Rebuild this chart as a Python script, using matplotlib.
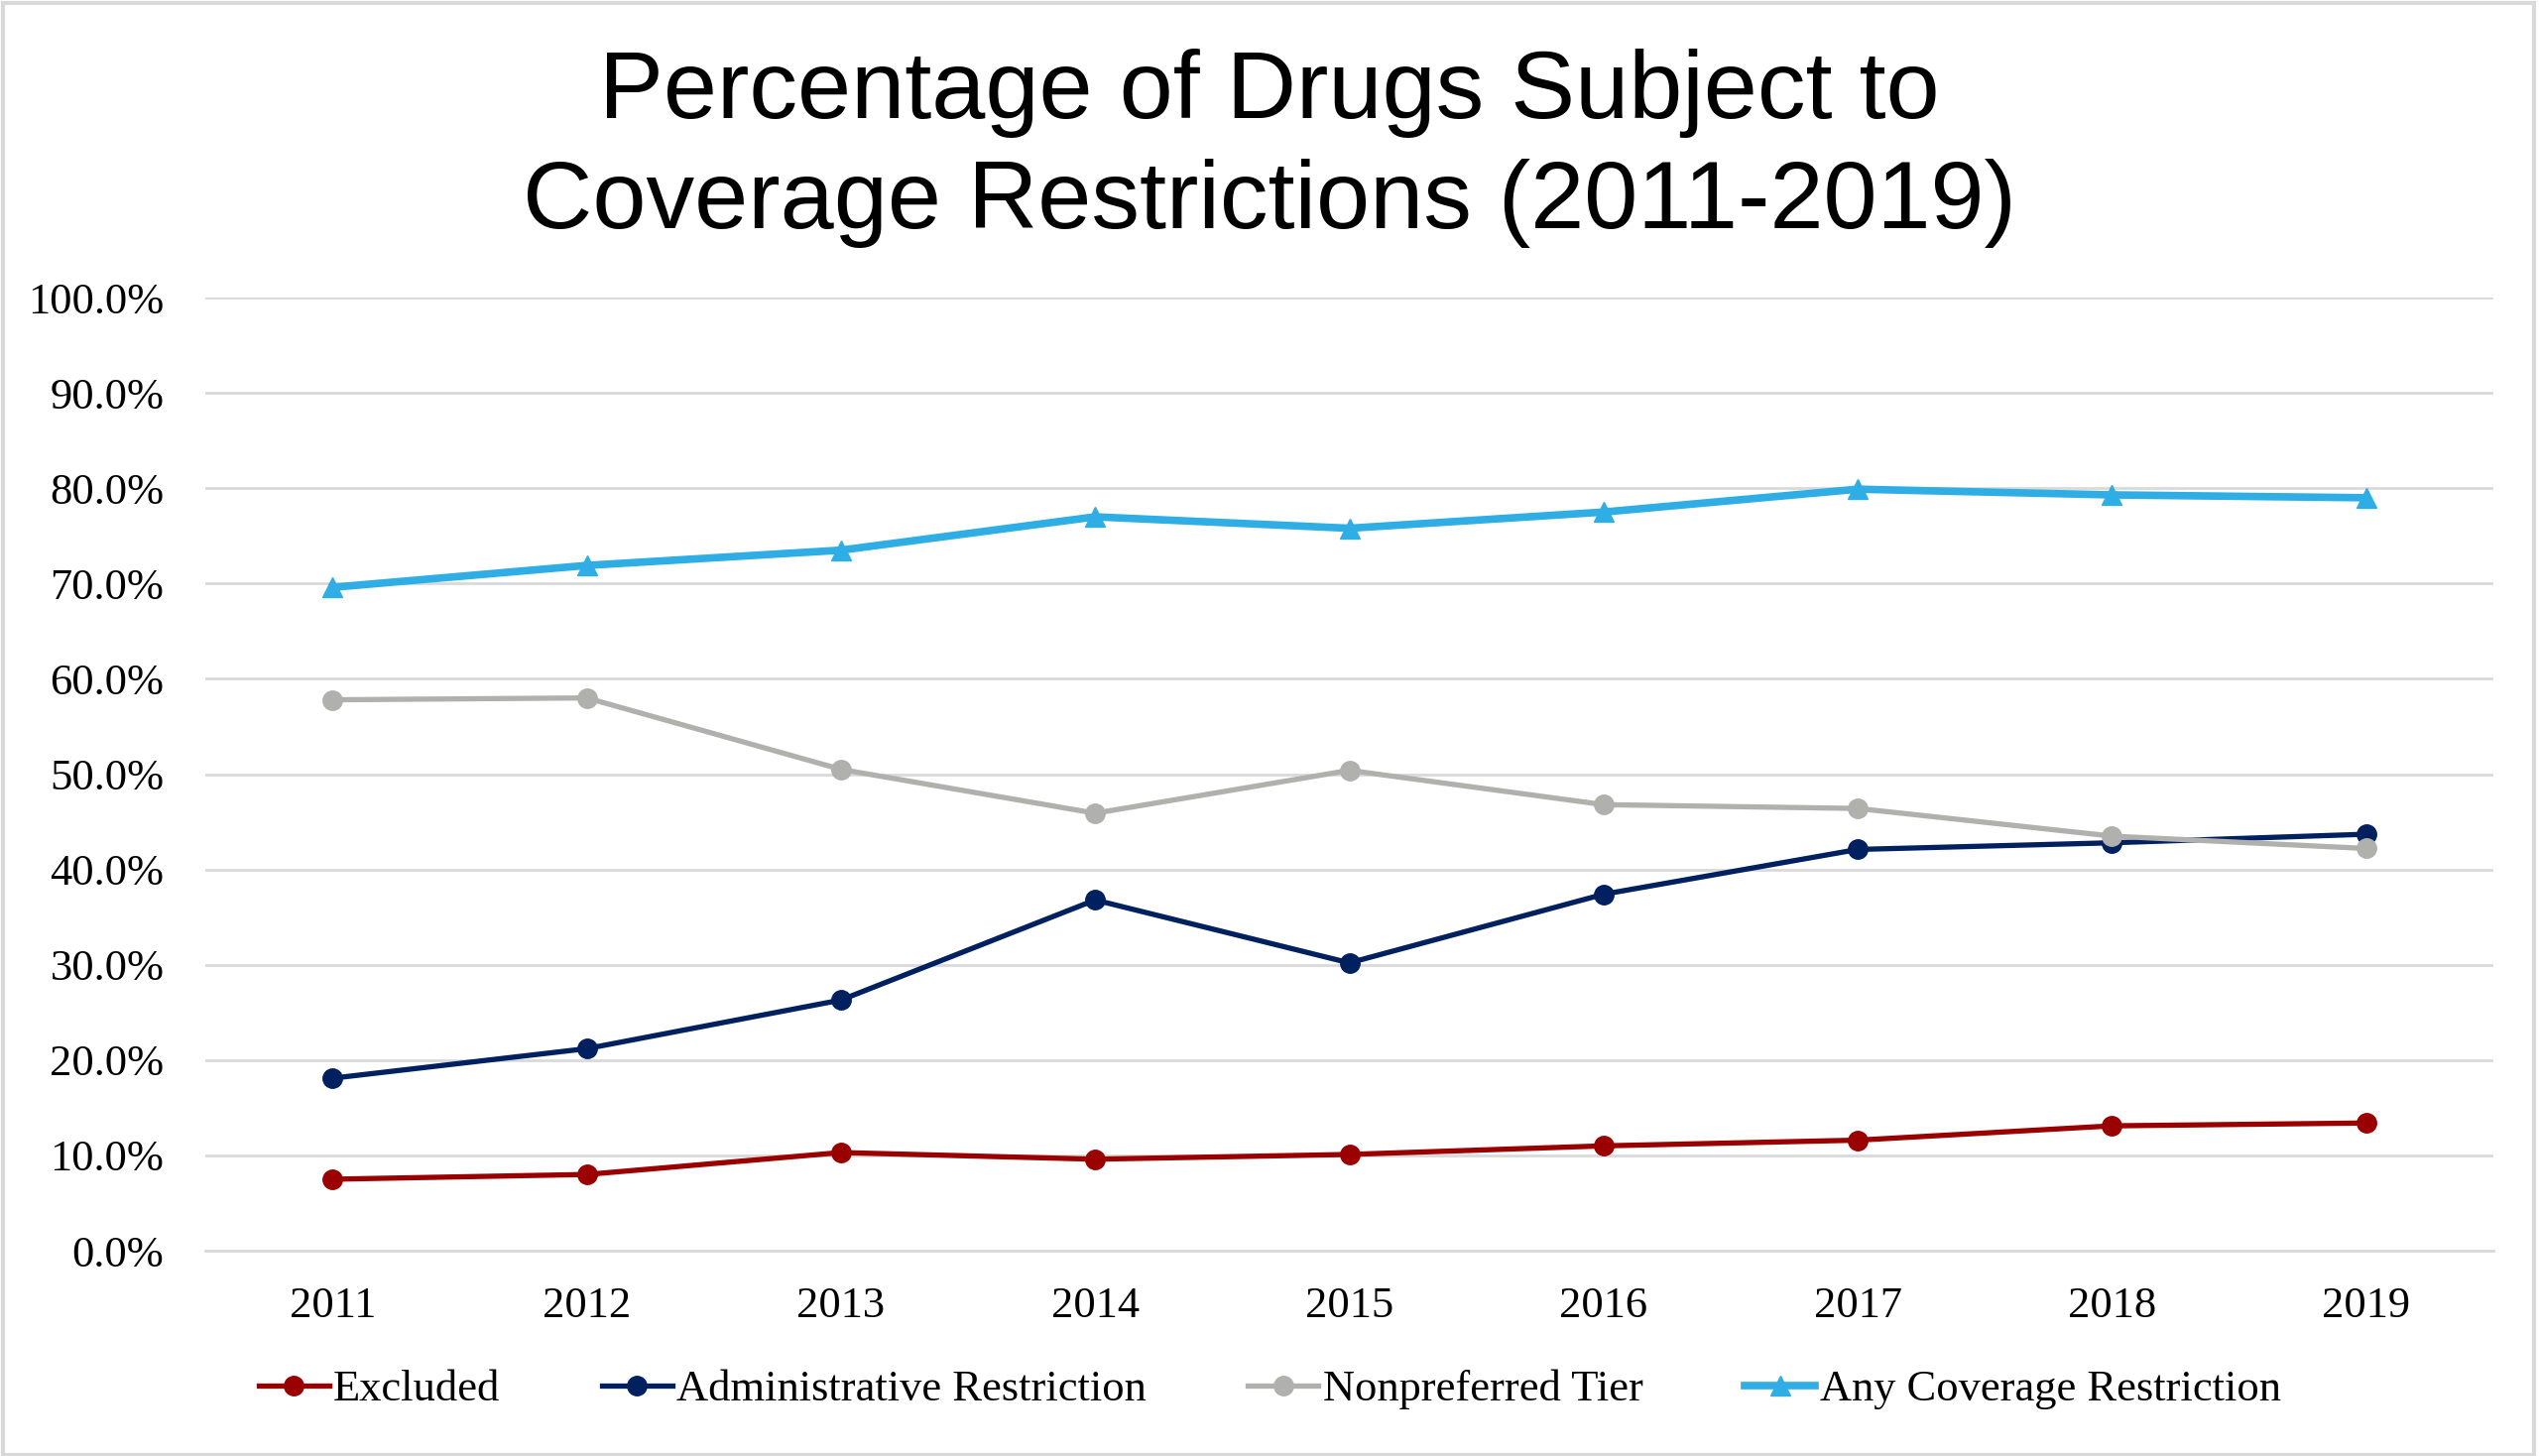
import matplotlib
matplotlib.use("Agg")
import matplotlib.pyplot as plt
from matplotlib.patches import Rectangle

years = ["2011", "2012", "2013", "2014", "2015", "2016", "2017", "2018", "2019"]
excluded = [7.5, 8.0, 10.3, 9.6, 10.1, 11.0, 11.6, 13.1, 13.4]
administrative = [18.1, 21.2, 26.3, 36.8, 30.2, 37.4, 42.1, 42.8, 43.7]
nonpreferred = [57.8, 58.0, 50.5, 45.9, 50.4, 46.8, 46.4, 43.5, 42.2]
any_coverage = [69.6, 71.9, 73.5, 77.0, 75.8, 77.5, 79.9, 79.3, 79.0]
yticks = [0, 10, 20, 30, 40, 50, 60, 70, 80, 90, 100]

serif = ["Liberation Serif", "DejaVu Serif"]

fig = plt.figure(figsize=(25.6, 14.68), dpi=100)
ax = fig.add_axes([0.0809, 0.141, 0.9011, 0.6546])

x = list(range(len(years)))
ax.plot(x, excluded, color="#9B0000", lw=3.8, marker="o", ms=14, label="Excluded", zorder=3)
ax.plot(x, administrative, color="#002060", lw=3.8, marker="o", ms=14, label="Administrative Restriction", zorder=3)
ax.plot(x, nonpreferred, color="#B0B0AD", lw=3.8, marker="o", ms=14, label="Nonpreferred Tier", zorder=3)
ax.plot(x, any_coverage, color="#2EAEE4", lw=5.5, marker="^", ms=14, label="Any Coverage Restriction", zorder=4)

ax.set_xlim(-0.5, len(years) - 0.5)
ax.set_ylim(0, 100)
ax.set_yticks(yticks)
ax.set_yticklabels([f"{v:.1f}%" for v in yticks], fontfamily=serif, fontsize=32)
ax.set_xticks(x)
ax.set_xticklabels(years, fontfamily=serif, fontsize=32)
ax.tick_params(axis="both", length=0)
ax.tick_params(axis="y", pad=30)
ax.tick_params(axis="x", pad=26)
ax.grid(axis="y", color="#D9D9D9", lw=2)
ax.set_axisbelow(True)
for s in ["top", "right", "left"]:
    ax.spines[s].set_visible(False)
ax.spines["bottom"].set_color("#D9D9D9")
ax.spines["bottom"].set_linewidth(2)

fig.text(0.5, 0.898, "Percentage of Drugs Subject to\nCoverage Restrictions (2011-2019)",
         ha="center", va="center", fontsize=70, fontfamily=["Liberation Sans", "DejaVu Sans"],
         linespacing=1.3)

leg = fig.legend(loc="center", bbox_to_anchor=(0.5, 0.0456), ncol=4, frameon=False,
                 prop={"family": serif, "size": 32}, handlelength=1.6, handletextpad=0.1,
                 columnspacing=2.3, markerscale=1.0)

fig.patches.append(Rectangle((0.001, 0.001), 0.997, 0.997, transform=fig.transFigure,
                             fill=False, edgecolor="#D9D9D9", lw=3))

fig.savefig("out.png", dpi=100, facecolor="white")
